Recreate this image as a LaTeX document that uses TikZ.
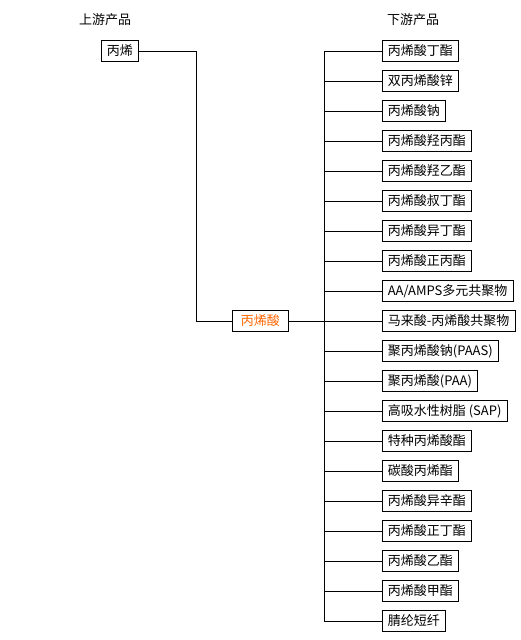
\documentclass[tikz,border=0pt]{standalone}
\usepackage{fontspec}
\setmainfont{Noto Sans CJK SC}
\usetikzlibrary{positioning, calc}
\definecolor{acidorange}{RGB}{255, 102, 0}
\tikzset{
  prodnode/.style={draw, line width=0.8pt, inner xsep=5.5pt, inner ysep=0pt, minimum height=21pt, font=\fontsize{13}{13}\selectfont, anchor=west},
  acidnode/.style={prodnode, inner xsep=8.5pt, text=acidorange},
  headnode/.style={font=\fontsize{13}{13}\selectfont},
  link/.style={line width=0.8pt},
}
\begin{document}
\begin{tikzpicture}[x=1pt, y=-1pt]
  \useasboundingbox (0,0) rectangle (520,640);
  \node[headnode] (uphead) at (105,20) {上游产品};
  \node[headnode] (downhead) at (413,20) {下游产品};
  \node[prodnode] (up) at (101,51) {丙烯};
  \node[acidnode] (acid) at (232,321) {丙烯酸};
  \coordinate (bend) at (196,51);
  \coordinate (trunktop) at (324,51);
  \coordinate (trunkbot) at (324,621);
  \draw[link] (up) -- (bend) |- (acid);
  \draw[link] (acid) -- (acid -| trunktop);
  \draw[link] (trunktop) -- (trunkbot);
  \foreach \name [count=\i from 0] in {丙烯酸丁酯, 双丙烯酸锌, 丙烯酸钠, 丙烯酸羟丙酯, 丙烯酸羟乙酯, 丙烯酸叔丁酯, 丙烯酸异丁酯, 丙烯酸正丙酯, AA/AMPS多元共聚物, 马来酸-丙烯酸共聚物, 聚丙烯酸钠(PAAS), 聚丙烯酸(PAA), 高吸水性树脂 (SAP), 特种丙烯酸酯, 碳酸丙烯酯, 丙烯酸异辛酯, 丙烯酸正丁酯, 丙烯酸乙酯, 丙烯酸甲酯, 腈纶短纤} {
    \node[prodnode] (d\i) at (382,51+30*\i) {\name};
    \draw[link] (d\i -| trunktop) -- (d\i);
  }
\end{tikzpicture}
\end{document}
